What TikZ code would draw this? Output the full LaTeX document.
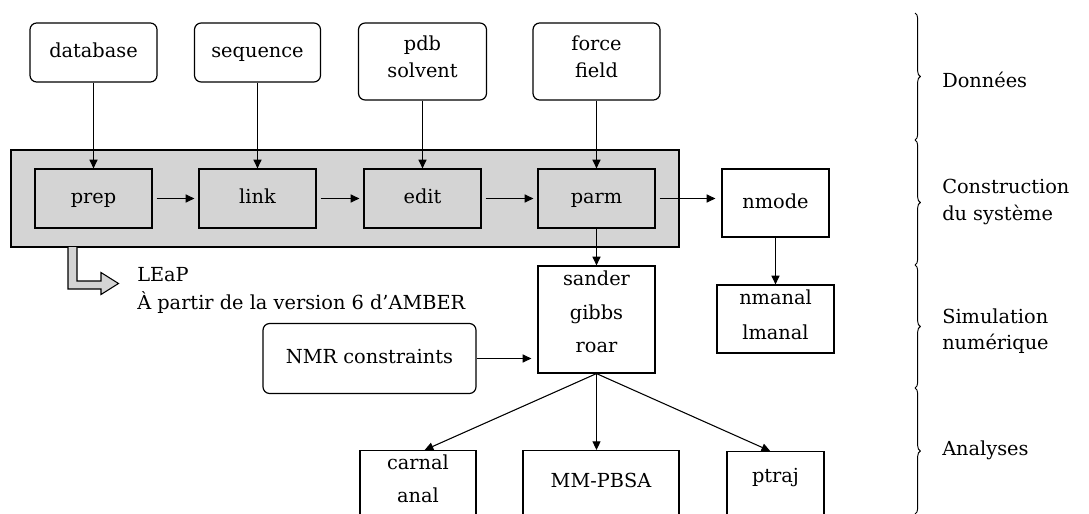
\documentclass[tikz,border=0pt]{standalone}
\usepackage{fontspec}
\setmainfont{DejaVu Serif}
\usetikzlibrary{arrows.meta,decorations.pathreplacing,calc}
\definecolor{stipple}{RGB}{212,212,212}
\newcommand{\txtfont}{\fontsize{14.5}{20}\selectfont}
\tikzset{
 base/.style={draw, line width=0.9pt, inner sep=0pt, align=center, font=\txtfont},
 one/.style={text height=11pt, text depth=3pt},
 rbox/.style={base, rounded corners=5pt, fill=white},
 sbox/.style={base},
 txt/.style={font=\txtfont, align=center, inner sep=0pt},
 arr/.style={line width=0.8pt, -{Triangle[length=6.5pt,width=6pt]}},
 lbl/.style={font=\txtfont, align=left, anchor=west, inner sep=0pt},
 brc/.style={decorate, decoration={brace, amplitude=4pt}, line width=0.7pt}
}
\begin{document}
\begin{tikzpicture}[x=0.75pt,y=-0.75pt]
\useasboundingbox (0,0) rectangle (1089,514);
\clip (0,0) rectangle (1089,514);
% top data nodes
\node[rbox, one, minimum width=95.25pt, minimum height=44.25pt] (database) at (93.5,52.5) {database};
\node[rbox, one, minimum width=94.5pt, minimum height=44.25pt] (sequence) at (257.5,52.5) {sequence};
\node[rbox, minimum width=96pt, minimum height=57.75pt] (pdb) at (422.5,61.5) {};
\node[txt] (pdbtxt) at (422.5,56.5) {pdb\\solvent};
\node[rbox, minimum width=95.25pt, minimum height=57.75pt] (force) at (596.5,61.5) {};
\node[txt] (forcetxt) at (596.5,56.5) {force\\field};
% grey construction band
\node[draw, fill=stipple, line width=0.9pt, minimum width=501pt, minimum height=72.75pt, inner sep=0pt] (grey) at (345,198.5) {};
\node[sbox, one, minimum width=87.75pt, minimum height=44.25pt] (prep) at (93.5,198.5) {prep};
\node[sbox, one, minimum width=87.75pt, minimum height=44.25pt] (link) at (257.5,198.5) {link};
\node[sbox, one, minimum width=87.75pt, minimum height=44.25pt] (edit) at (422.5,198.5) {edit};
\node[sbox, one, minimum width=87.75pt, minimum height=44.25pt] (parm) at (596.5,198.5) {parm};
% right column
\node[sbox, one, minimum width=80.25pt, minimum height=51pt] (nmode) at (775.5,203) {nmode};
\node[sbox, minimum width=87.75pt, minimum height=51pt] (nmanal) at (775.5,319) {};
\node[txt] (nmanaltxt) at (775.5,314.5) {nmanal\\[6pt]lmanal};
% simulation
\node[sbox, minimum width=87.75pt, minimum height=80.25pt] (sander) at (596.5,319.5) {};
\node[txt] (sandertxt) at (596.5,312) {sander\\[5pt]gibbs\\[5pt]roar};
\node[rbox, one, minimum width=159.75pt, minimum height=52.5pt] (nmr) at (369.5,358.5) {NMR constraints};
% analyses
\node[sbox, minimum width=87pt, minimum height=60pt, anchor=north] (carnal) at (418,450) {};
\node[txt] (carnaltxt) at (418,479) {carnal\\[5pt]anal};
\node[sbox, minimum width=117pt, minimum height=60pt, anchor=north] (mmpbsa) at (601,450) {};
\node[txt] (mmpbsatxt) at (601,480) {MM-PBSA};
\node[sbox, minimum width=72.75pt, minimum height=60pt, anchor=north] (ptraj) at (775.5,451) {};
\node[txt] (ptrajtxt) at (775.5,478) {ptraj};
% arrows
\draw[arr] (database) -- (prep);
\draw[arr] (sequence.south) -- (sequence.south |- link.north);
\draw[arr] (pdb.south) -- (pdb.south |- edit.north);
\draw[arr] (force) -- (parm);
\draw[arr, shorten <=3pt, shorten >=3pt] (prep) -- (link);
\draw[arr, shorten <=3pt, shorten >=3pt] (link) -- (edit);
\draw[arr, shorten <=3pt, shorten >=3pt] (edit) -- (parm);
\draw[arr, shorten <=3pt, shorten >=4.5pt] (parm.east) -- (parm.east -| nmode.west);
\draw[arr] (parm) -- (sander);
\draw[arr] (nmode) -- (nmanal);
\draw[arr, shorten >=4.5pt] (nmr.east) -- (nmr.east -| sander.west);
\draw[arr] (sander.south) -- ([xshift=5pt]carnal.north);
\draw[arr] (sander.south) -- (sander.south |- mmpbsa.north);
\draw[arr] (sander.south) -- ([xshift=-4pt]ptraj.north);
% hollow LEaP arrow
\draw[line width=0.8pt, fill=stipple] (68,247) -- (68,289) -- (101,289) -- (101,294.5) -- (118.5,283.5) -- (101,272.5) -- (101,281) -- (77,281) -- (77,247);
\node[lbl] (leap) at (137,290) {LEaP\\[1pt]À partir de la version 6 d’AMBER};
% braces and section labels
\draw[brc] (915,13) -- (915,140);
\draw[brc] (915,140) -- (915,265);
\draw[brc] (915,265) -- (915,388);
\draw[brc] (915,388) -- (915,514);
\node[lbl] (donnees) at (942,80) {Données};
\node[lbl] (construction) at (942,202) {Construction\\du système};
\node[lbl] (simulation) at (942,331) {Simulation\\numérique};
\node[lbl] (analyses) at (942,450) {Analyses};
\end{tikzpicture}
\end{document}
